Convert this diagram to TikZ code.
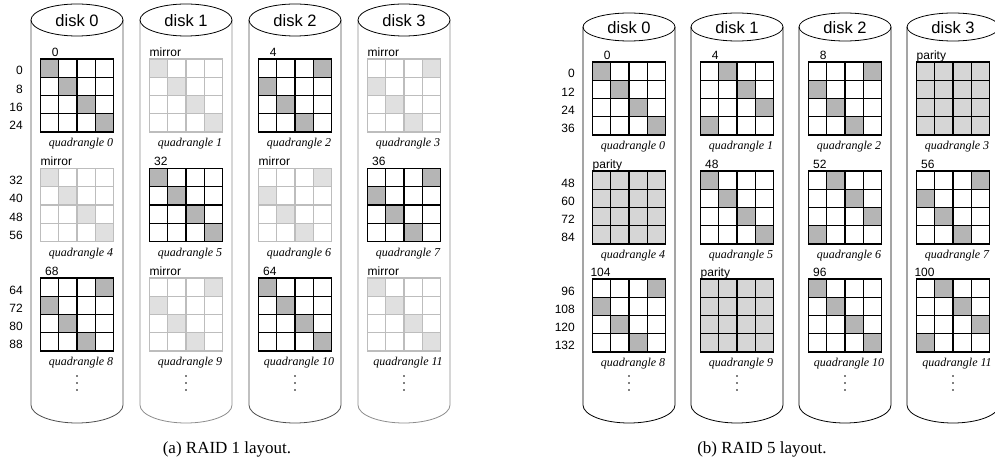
\documentclass[tikz,border=0pt]{standalone}
\usepackage{fontspec}
\setmainfont{Liberation Serif}
\newfontfamily\hv{Liberation Sans}
\definecolor{darkfill}{HTML}{B5B5B5}
\definecolor{mirfill}{HTML}{E0E0E0}
\definecolor{mirline}{HTML}{BDBDBD}
\definecolor{parfill}{HTML}{D6D6D6}
\tikzset{
  dkbg/.style={}, mrbg/.style={}, pabg/.style={fill=parfill},
  dkcell/.style={fill=darkfill},
  mrcell/.style={fill=mirfill},
  pacell/.style={fill=parfill},
  dkline/.style={draw=black,line width=1.1pt,line cap=rect},
  mrline/.style={draw=mirline,line width=1.1pt,line cap=rect},
  paline/.style={draw=black,line width=1.1pt,line cap=rect},
  num/.style={font=\hv\fontsize{12}{14}\selectfont, inner sep=0pt},
  qcap/.style={font=\itshape\fontsize{12}{14}\selectfont, inner sep=0pt},
  disklab/.style={font=\hv\fontsize{16.5}{18}\selectfont, inner sep=0pt},
  maincap/.style={font=\fontsize{17}{20}\selectfont, inner sep=0pt},
  dotmark/.style={fill=black},
}
% #1 left, #2 top, #3 kind, #4 shaded columns, #5 label, #6 label placement, #7 quadrangle no., #8 prefix
\newcommand\qgrid[8]{%
  \path[#3bg] (#1,#2) rectangle ++(73,73);
  \foreach \c [count=\r from 0] in {#4} {\path[#3cell] (#1+\c*18.25,#2+\r*18.25) rectangle ++(18.25,18.25);}
  \foreach \i in {0,...,4} {%
    \draw[#3line] (#1+\i*18.25,#2) -- ++(0,73);
    \draw[#3line] (#1,#2+\i*18.25) -- ++(73,0);}
  \node[num,#6] (#8l#7) at (#1,#2-2.5) {#5};
  \node[qcap,anchor=base] (#8q#7) at (#1+40.5,#2+87.5) {quadrangle #7};
}
% #1 cx, #2 ellipse cy, #3 ry, #4 body colour, #5 disk no., #6 prefix
\newcommand\cyl[6]{%
  \draw[#4,line width=0.8pt] (#1-46,#2) -- (#1-46,405)
     .. controls (#1-46,414.94) and (#1-25.4,423) .. (#1,423)
     .. controls (#1+25.4,423) and (#1+46,414.94) .. (#1+46,405) -- (#1+46,#2);
  \draw[line width=0.8pt] (#1,#2) ellipse [x radius=46pt, y radius=#3pt];
  \node[disklab] (#6d#5) at (#1,#2+1) {disk #5};
  \foreach \yy in {376,383,390} \fill[dotmark] (#1,\yy) circle[radius=0.9pt];
}
\begin{document}
\begin{tikzpicture}[x=1pt,y=-1pt]
\useasboundingbox (0,0) rectangle (995,465);
% ---------------- RAID 1 ----------------
\cyl{77}{20}{16}{black!70}{0}{a}
\cyl{186}{20}{16}{black!45}{1}{a}
\cyl{295}{20}{16}{black!70}{2}{a}
\cyl{404}{20}{16}{black!45}{3}{a}
\qgrid{40.5}{59}{dk}{0,1,2,3}{0}{anchor=base east,xshift=18.25pt}{0}{a}
\qgrid{149.5}{59}{mr}{0,1,2,3}{mirror}{anchor=base west}{1}{a}
\qgrid{258.5}{59}{dk}{3,0,1,2}{4}{anchor=base east,xshift=18.25pt}{2}{a}
\qgrid{367.5}{59}{mr}{3,0,1,2}{mirror}{anchor=base west}{3}{a}
\qgrid{40.5}{168.5}{mr}{0,1,2,3}{mirror}{anchor=base west}{4}{a}
\qgrid{149.5}{168.5}{dk}{0,1,2,3}{32}{anchor=base east,xshift=18.25pt}{5}{a}
\qgrid{258.5}{168.5}{mr}{3,0,1,2}{mirror}{anchor=base west}{6}{a}
\qgrid{367.5}{168.5}{dk}{3,0,1,2}{36}{anchor=base east,xshift=18.25pt}{7}{a}
\qgrid{40.5}{278}{dk}{3,0,1,2}{68}{anchor=base east,xshift=18.25pt}{8}{a}
\qgrid{149.5}{278}{mr}{3,0,1,2}{mirror}{anchor=base west}{9}{a}
\qgrid{258.5}{278}{dk}{0,1,2,3}{64}{anchor=base east,xshift=18.25pt}{10}{a}
\qgrid{367.5}{278}{mr}{0,1,2,3}{mirror}{anchor=base west}{11}{a}
\foreach \t/\a/\b/\c/\d [count=\k] in {59/0/8/16/24, 168.5/32/40/48/56, 278/64/72/80/88}
  \foreach \v [count=\r from 0] in {\a,\b,\c,\d}
    \node[num,anchor=base east] (ar\k-\r) at (23,\t+\r*18.25+16) {\v};
\node[maincap,anchor=base] (capa) at (227,453) {(a) RAID 1 layout.};
% ---------------- RAID 5 ----------------
\cyl{629}{27}{14}{black}{0}{b}
\cyl{737}{27}{14}{black}{1}{b}
\cyl{845}{27}{14}{black}{2}{b}
\cyl{953}{27}{14}{black}{3}{b}
\qgrid{592.5}{62}{dk}{0,1,2,3}{0}{anchor=base east,xshift=18.25pt}{0}{b}
\qgrid{700.5}{62}{dk}{1,2,3,0}{4}{anchor=base east,xshift=18.25pt}{1}{b}
\qgrid{808.5}{62}{dk}{3,0,1,2}{8}{anchor=base east,xshift=18.25pt}{2}{b}
\qgrid{916.5}{62}{pa}{0,1,2,3}{parity}{anchor=base west}{3}{b}
\qgrid{592.5}{171}{pa}{0,1,2,3}{parity}{anchor=base west}{4}{b}
\qgrid{700.5}{171}{dk}{0,1,2,3}{48}{anchor=base east,xshift=18.25pt}{5}{b}
\qgrid{808.5}{171}{dk}{1,2,3,0}{52}{anchor=base east,xshift=18.25pt}{6}{b}
\qgrid{916.5}{171}{dk}{3,0,1,2}{56}{anchor=base east,xshift=18.25pt}{7}{b}
\qgrid{592.5}{279}{dk}{3,0,1,2}{104}{anchor=base east,xshift=18.25pt}{8}{b}
\qgrid{700.5}{279}{pa}{0,1,2,3}{parity}{anchor=base west}{9}{b}
\qgrid{808.5}{279}{dk}{0,1,2,3}{96}{anchor=base east,xshift=18.25pt}{10}{b}
\qgrid{916.5}{279}{dk}{1,2,3,0}{100}{anchor=base east,xshift=18.25pt}{11}{b}
\foreach \t/\a/\b/\c/\d [count=\k] in {62/0/12/24/36, 171/48/60/72/84, 279/96/108/120/132}
  \foreach \v [count=\r from 0] in {\a,\b,\c,\d}
    \node[num,anchor=base east] (br\k-\r) at (575,\t+\r*18.25+16) {\v};
\node[maincap,anchor=base] (capb) at (762,453) {(b) RAID 5 layout.};
\end{tikzpicture}
\end{document}
